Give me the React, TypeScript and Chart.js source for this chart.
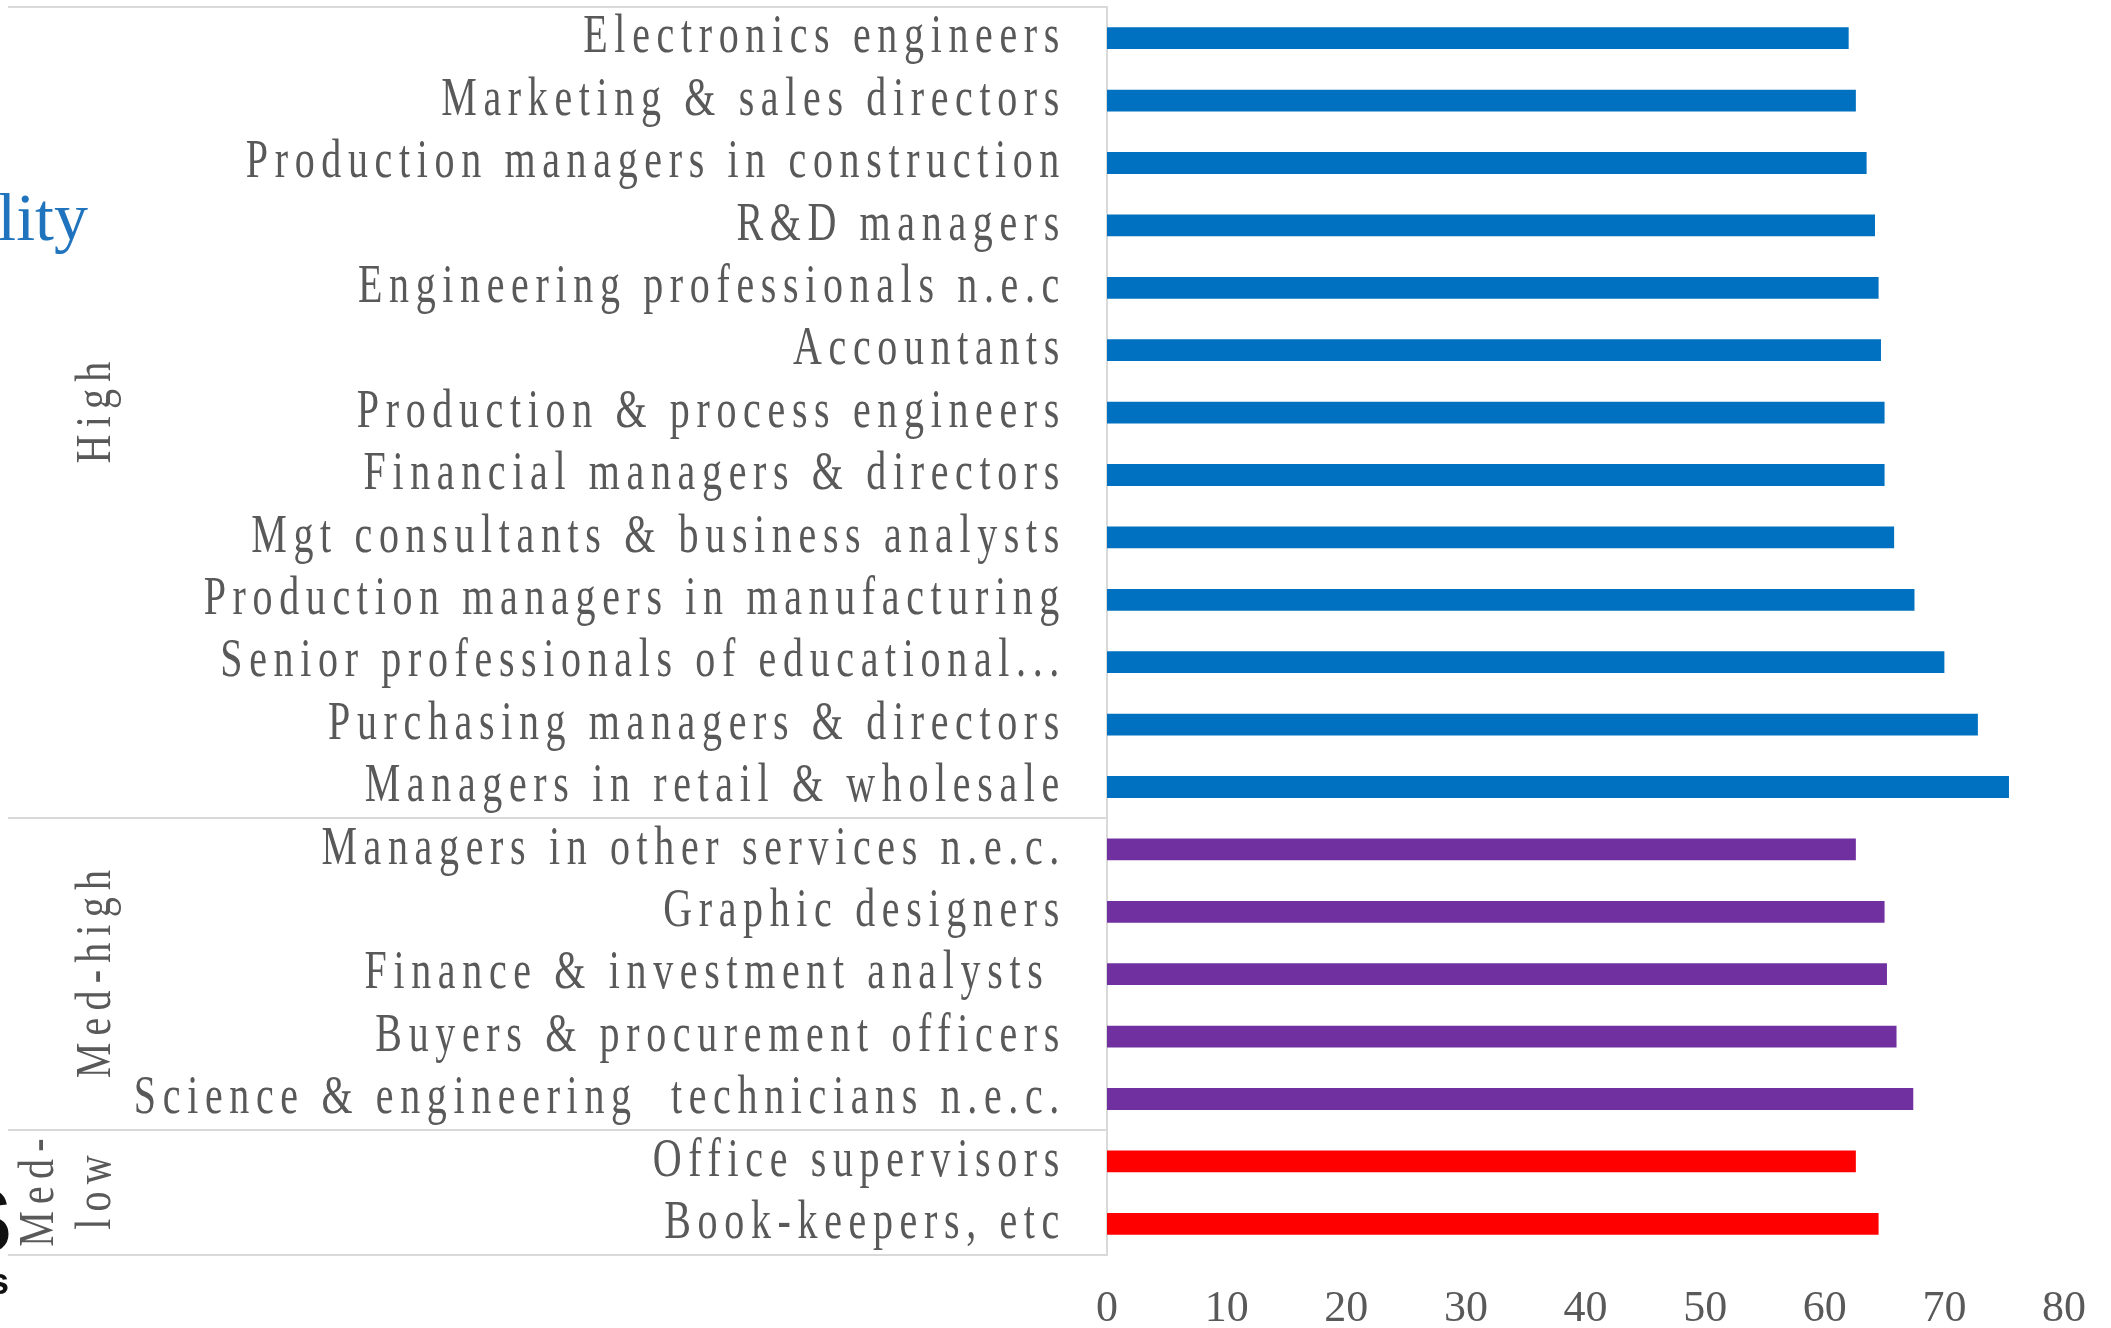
import React, { useEffect, useRef } from 'react';
import { Chart, registerables } from 'chart.js';

Chart.register(...registerables);

// ---------- data ----------
const categories = [
  'Electronics engineers',
  'Marketing & sales directors',
  'Production managers in construction',
  'R&D managers',
  'Engineering professionals n.e.c',
  'Accountants',
  'Production & process engineers',
  'Financial managers & directors',
  'Mgt consultants & business analysts',
  'Production managers in manufacturing',
  'Senior professionals of educational...',
  'Purchasing managers & directors',
  'Managers in retail & wholesale',
  'Managers in other services n.e.c.',
  'Graphic designers',
  'Finance & investment analysts ',
  'Buyers & procurement officers',
  'Science & engineering  technicians n.e.c.',
  'Office supervisors',
  'Book-keepers, etc',
];

const values = [
  62.0, 62.6, 63.5, 64.2, 64.5, 64.7, 65.0, 65.0, 65.8, 67.5, 70.0, 72.8, 75.4,
  62.6, 65.0, 65.2, 66.0, 67.4,
  62.6, 64.5,
];

const groupLabels = [['High'], ['Med-high'], ['Med-', 'low']];
const groupSizes = [13, 5, 2];
const groupColors = ['#0070C0', '#7030A0', '#FF0000'];

const xMin = 0;
const xMax = 80;
const xStep = 10;

// ---------- styles ----------
const SERIF = '"Liberation Serif", "Times New Roman", Times, serif';
const TEXT_GRAY = '#595959';
const LINE_GRAY = '#D9D9D9';
const LABEL_SX = 0.74;
const LABEL_LS = 9;
const GROUP_SX = 0.8;
const GROUP_LS = 9;

const barColors: string[] = [];
groupSizes.forEach((n, gi) => {
  for (let i = 0; i < n; i++) barColors.push(groupColors[gi]);
});

const decorPlugin = {
  id: 'decor',
  beforeDraw(chart: any) {
    const s: any = chart.scales.y;
    if (s && !s.__squeezed) {
      const orig = s.drawLabels;
      s._computeLabelArea = () => undefined;
      s.drawLabels = function (area: any) {
        const ctx = this.ctx as any;
        const x0 = this.right - this.options.ticks.padding;
        ctx.save();
        ctx.translate(x0, 0);
        ctx.scale(LABEL_SX, 1);
        ctx.translate(-x0, 0);
        ctx.letterSpacing = LABEL_LS + 'px';
        orig.call(this, area);
        ctx.restore();
      };
      s.__squeezed = true;
    }
  },
  afterDraw(chart: any) {
    const ctx = chart.ctx as any;
    const y = chart.scales.y;
    const area = chart.chartArea;

    // group boxes (lines in the label area)
    const bounds: number[] = [-0.5];
    let acc = -0.5;
    groupSizes.forEach((n) => {
      acc += n;
      bounds.push(acc);
    });
    ctx.save();
    ctx.strokeStyle = LINE_GRAY;
    ctx.lineWidth = 2;
    bounds.forEach((b) => {
      const py = Math.round(y.getPixelForValue(b));
      ctx.beginPath();
      ctx.moveTo(8, py);
      ctx.lineTo(area.left, py);
      ctx.stroke();
    });
    ctx.restore();

    // group labels (rotated)
    let start = -0.5;
    groupLabels.forEach((lines, gi) => {
      const end = start + groupSizes[gi];
      const yc = (y.getPixelForValue(start) + y.getPixelForValue(end)) / 2;
      const baselines = lines.length === 1 ? [110] : [53, 110];
      lines.forEach((t, li) => {
        ctx.save();
        ctx.translate(baselines[li], yc);
        ctx.rotate(-Math.PI / 2);
        ctx.scale(GROUP_SX, 1);
        ctx.font = `50px ${SERIF}`;
        ctx.fillStyle = TEXT_GRAY;
        ctx.textAlign = 'center';
        ctx.textBaseline = 'alphabetic';
        ctx.letterSpacing = GROUP_LS + 'px';
        ctx.fillText(t, GROUP_LS / 2, 0);
        ctx.restore();
      });
      start = end;
    });

    // fragments of surrounding slide text cut by the frame
    ctx.save();
    ctx.fillStyle = '#1F74BD';
    ctx.font = `68px ${SERIF}`;
    ctx.textAlign = 'right';
    ctx.textBaseline = 'alphabetic';
    ctx.fillText('Probability', 88, 240);
    ctx.fillStyle = '#111111';
    ctx.font = `bold 90px "Liberation Sans", Arial, sans-serif`;
    ctx.fillText('S', 12, 1252);
    ctx.font = `bold 36px "Liberation Sans", Arial, sans-serif`;
    ctx.fillText('s', 9, 1294);
    ctx.restore();
  },
};

export default function App() {
  const ref = useRef<HTMLCanvasElement>(null);

  useEffect(() => {
    document.body.style.margin = '0';
    const canvas = ref.current;
    if (!canvas) return;
    const chart = new Chart(canvas, {
      type: 'bar',
      data: {
        labels: categories,
        datasets: [
          {
            data: values,
            backgroundColor: barColors,
            borderWidth: 0,
            barPercentage: 0.35,
            categoryPercentage: 1,
          },
        ],
      },
      options: {
        indexAxis: 'y',
        responsive: false,
        animation: false,
        devicePixelRatio: 1,
        layout: { padding: { left: 0, top: 7, right: 47, bottom: 0 } },
        plugins: {
          legend: { display: false },
          tooltip: { enabled: false },
          title: { display: false },
        },
        scales: {
          x: {
            type: 'linear',
            min: xMin,
            max: xMax,
            grid: { display: false, drawTicks: false },
            border: { display: false },
            ticks: {
              stepSize: xStep,
              autoSkip: false,
              maxRotation: 0,
              padding: 28,
              color: TEXT_GRAY,
              font: { family: SERIF, size: 44 },
            },
            afterFit: (s: any) => {
              s.height = 73;
              s.paddingLeft = 0;
              s.paddingRight = 0;
            },
          },
          y: {
            type: 'category',
            offset: true,
            grid: { display: false, drawTicks: false },
            border: { display: true, color: LINE_GRAY, width: 2 },
            ticks: {
              autoSkip: false,
              padding: 41,
              color: TEXT_GRAY,
              font: { family: SERIF, size: 54 },
            },
            afterFit: (s: any) => {
              s.width = 1107;
              s.paddingTop = 0;
              s.paddingBottom = 0;
            },
          },
        },
      },
      plugins: [decorPlugin],
    } as any);
    return () => chart.destroy();
  }, []);

  return (
    <div style={{ width: 2111, height: 1328, background: '#ffffff' }}>
      <canvas ref={ref} width={2111} height={1328} style={{ display: 'block' }} />
    </div>
  );
}
